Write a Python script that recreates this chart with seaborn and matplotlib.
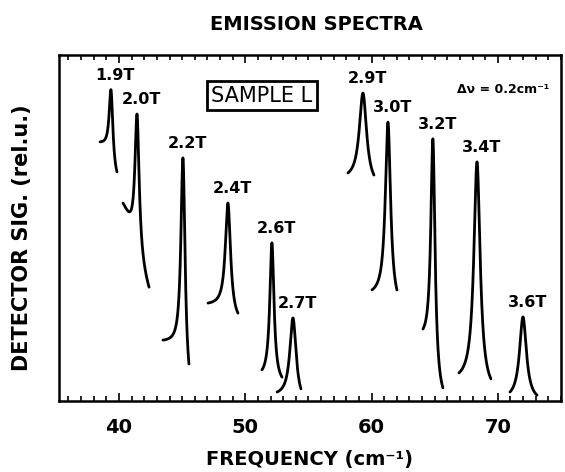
import numpy as np
import pandas as pd
import matplotlib
matplotlib.use("Agg")
import matplotlib.pyplot as plt
import seaborn as sns
from matplotlib.ticker import MultipleLocator

# peak parameters (x in cm^-1, y in rel. units 0..1)
fields = ["1.9T", "2.0T", "2.2T", "2.4T", "2.6T", "2.7T", "2.9T", "3.0T", "3.2T", "3.4T", "3.6T"]
centers = [39.37, 41.43, 45.07, 48.63, 52.11, 53.78, 59.32, 61.30, 64.86, 68.35, 71.99]
tops = [0.899, 0.829, 0.702, 0.572, 0.457, 0.240, 0.890, 0.806, 0.757, 0.691, 0.243]
left_x = [38.50, 40.32, 43.48, 47.05, 51.32, 52.52, 58.13, 60.03, 64.07, 66.92, 70.96]
left_y = [0.749, 0.572, 0.176, 0.283, 0.090, 0.026, 0.659, 0.321, 0.208, 0.081, 0.026]
right_x = [39.84, 42.38, 45.54, 49.42, 52.91, 54.41, 60.19, 62.01, 65.65, 69.45, 73.10]
right_y = [0.662, 0.329, 0.107, 0.254, 0.069, 0.035, 0.653, 0.321, 0.038, 0.064, 0.017]
hwhm = [0.18, 0.20, 0.20, 0.25, 0.20, 0.30, 0.35, 0.25, 0.20, 0.30, 0.33]
# width of the baseline shift under each line (cm^-1)
shift_w = [0.30, 1.50, 0.30, 0.40, 0.30, 0.45, 0.50, 0.40, 0.30, 0.45, 0.50]

x_ticks = [40, 50, 60, 70]


def lorentz(x, x0, g):
    return g ** 2 / ((x - x0) ** 2 + g ** 2)


def step(x, x0, w):
    return 0.5 + np.arctan((x - x0) / w) / np.pi


def peak_curve(x0, yp, xl, yl, xr, yr, g, w, n=500):
    """Lorentzian line on a smoothly shifting baseline, pinned to its end points and top."""
    x = np.linspace(xl, xr, n)
    m = np.array([[1 - step(xl, x0, w), step(xl, x0, w), lorentz(xl, x0, g)],
                  [1 - step(xr, x0, w), step(xr, x0, w), lorentz(xr, x0, g)],
                  [0.5, 0.5, 1.0]])
    bl, br, amp = np.linalg.solve(m, [yl, yr, yp])
    s = step(x, x0, w)
    return x, bl * (1 - s) + br * s + amp * lorentz(x, x0, g)


frames = []
for i, name in enumerate(fields):
    fx, fy = peak_curve(centers[i], tops[i], left_x[i], left_y[i],
                        right_x[i], right_y[i], hwhm[i], shift_w[i])
    frames.append(pd.DataFrame({"freq": fx, "signal": fy, "field": name}))
df = pd.concat(frames, ignore_index=True)

sns.set_style("ticks")
plt.rcParams["font.family"] = ["DejaVu Sans"]
plt.rcParams["text.color"] = "black"
plt.rcParams["axes.labelcolor"] = "black"
plt.rcParams["xtick.color"] = "black"
plt.rcParams["ytick.color"] = "black"

W, H = 565, 472
fig = plt.figure(figsize=(W / 100, H / 100), dpi=100)
ax = fig.add_axes([59 / W, 1 - 401 / H, (561 - 59) / W, (401 - 55) / H])

sns.lineplot(data=df, x="freq", y="signal", units="field", estimator=None,
             sort=False, color="black", lw=2.0, legend=False, ax=ax)

ax.set_xlim(35.25, 75.0)
ax.set_ylim(0, 1)

# field labels just above each peak
for i, name in enumerate(fields):
    ax.annotate(name, (centers[i], tops[i]), xytext=(3, 5), textcoords="offset points",
                ha="center", va="bottom", fontsize=11.5, fontweight="bold")

ax.text(0.404, 0.882, "SAMPLE L", transform=ax.transAxes, ha="center", va="center",
        fontsize=15, fontweight="medium",
        bbox=dict(boxstyle="square,pad=0.22", fc="white", ec="black", lw=2.0))
ax.text(0.884, 0.899, "Δν = 0.2cm⁻¹", transform=ax.transAxes, ha="center", va="center",
        fontsize=9, fontweight="bold")

ax.set_xticks(x_ticks)
ax.set_xticklabels([str(v) for v in x_ticks], fontsize=14, fontweight="bold")
ax.xaxis.set_minor_locator(MultipleLocator(1))
ax.set_yticks([])
ax.tick_params(which="both", direction="in", top=True, bottom=True, left=False, right=False,
               width=1.2, color="black")
ax.tick_params(which="major", length=6, pad=12)
ax.tick_params(which="minor", length=3.5)
for sp in ax.spines.values():
    sp.set_linewidth(1.8)
    sp.set_color("black")

ax.set_xlabel("FREQUENCY (cm⁻¹)", fontsize=14, fontweight="bold")
ax.xaxis.label.set_va("center")
ax.xaxis.set_label_coords((309 - 59) / 502, -(459 - 401) / 346)
ax.set_ylabel("DETECTOR SIG. (rel.u.)", fontsize=15, fontweight="bold")
ax.yaxis.label.set_va("center")
ax.yaxis.set_label_coords(-(59 - 22) / 502, (401 - 238) / 346)

fig.text(316 / W, 1 - 24 / H, "EMISSION SPECTRA", ha="center", va="center",
         fontsize=14, fontweight="bold")

fig.savefig("out.png", dpi=100)
